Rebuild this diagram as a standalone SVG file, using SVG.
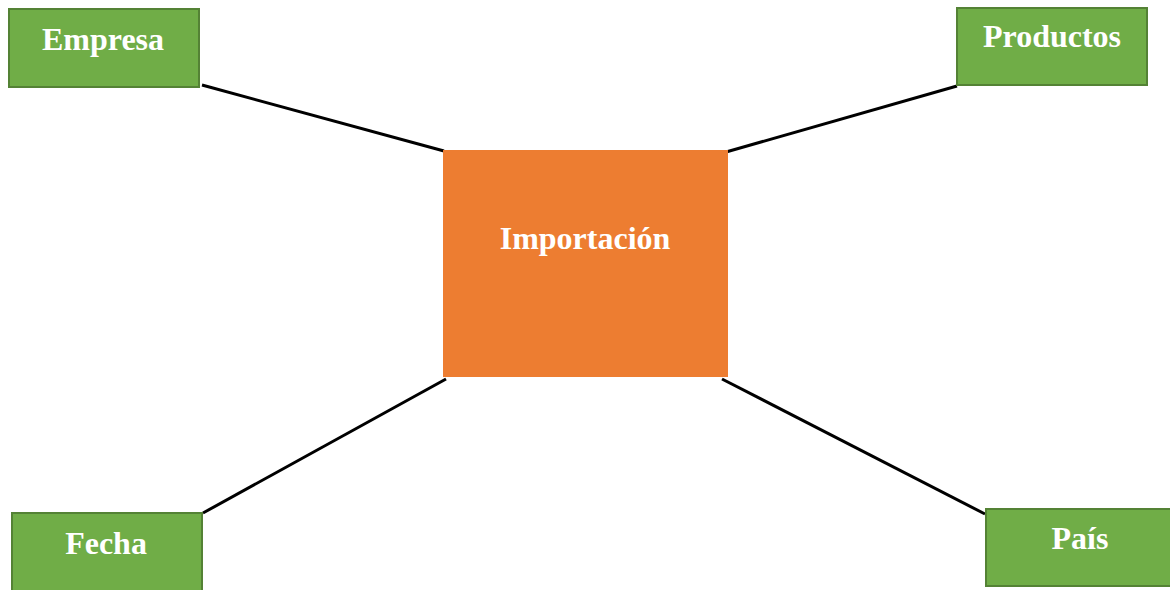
<svg xmlns="http://www.w3.org/2000/svg" width="1170" height="590" viewBox="0 0 1170 590">
<style>
.leaf{fill:#70AD47;stroke:#548235;stroke-width:2}
.hub{fill:#ED7D31}
.t{font-family:"Liberation Serif","Times New Roman",serif;font-weight:bold;font-size:32px;fill:#FFFFFF;text-anchor:middle}
.c{stroke:#000;stroke-width:3;fill:none}
</style>
<rect width="1170" height="590" fill="#FFFFFF"/>
<g id="connectors">
<line class="c" x1="202" y1="85" x2="444" y2="151"/>
<line class="c" x1="957" y1="86" x2="726" y2="152"/>
<line class="c" x1="203" y1="513" x2="446" y2="379"/>
<line class="c" x1="985" y1="514" x2="722" y2="379"/>
</g>
<g id="importacion">
<rect class="hub" x="443" y="150" width="285" height="227"/>
<text class="t" x="585" y="249">Importación</text>
</g>
<g id="empresa">
<rect class="leaf" x="9" y="9" width="190" height="78"/>
<text class="t" x="103" y="50">Empresa</text>
</g>
<g id="productos">
<rect class="leaf" x="957" y="8" width="190" height="77"/>
<text class="t" x="1052" y="47">Productos</text>
</g>
<g id="fecha">
<rect class="leaf" x="12" y="513" width="190" height="80"/>
<text class="t" x="106" y="554">Fecha</text>
</g>
<g id="pais">
<rect class="leaf" x="986" y="509" width="190" height="77"/>
<text class="t" x="1080" y="549">País</text>
</g>
</svg>
